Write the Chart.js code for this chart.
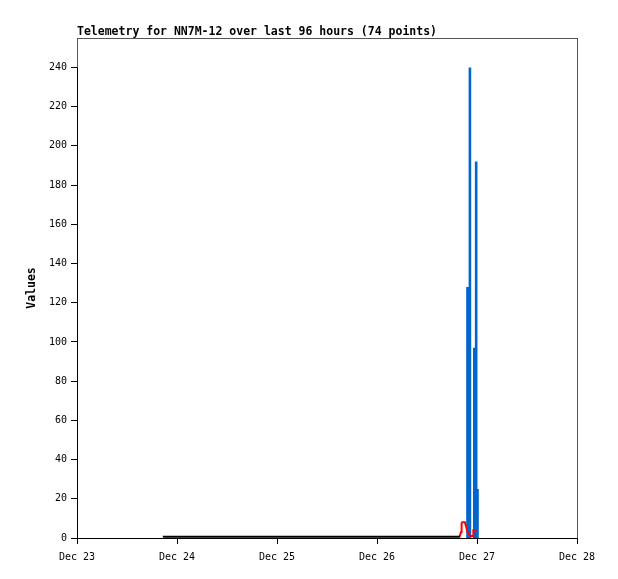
<!DOCTYPE html>
<html>
<head>
<meta charset="utf-8">
<title>Telemetry NN7M-12</title>
<script src="https://cdn.jsdelivr.net/npm/chart.js@4/dist/chart.umd.min.js"></script>
<style>
  html, body { margin: 0; padding: 0; background: #fff; }
  #wrap { width: 618px; height: 579px; }
</style>
</head>
<body>
<div id="wrap"><canvas id="telemetryChart" width="618" height="579"></canvas></div>
<script>
/* telemetry chart — hours measured from Dec 23 00:00 */

// ── Data ──────────────────────────────────────────────────────────────────

const TITLE      = 'Telemetry for NN7M-12 over last 96 hours (74 points)';
const DAY_LABELS = ['Dec 23', 'Dec 24', 'Dec 25', 'Dec 26', 'Dec 27', 'Dec 28'];

// black trace (flat, just above zero)
const blackHours  = [20.6, 30, 40, 50, 60, 70, 80, 88, 91.9];
const blackValues = [0.6, 0.6, 0.6, 0.6, 0.6, 0.6, 0.6, 0.6, 0.6];

// red trace
const redHours  = [91.8, 92.16, 92.3, 92.45, 93.1, 93.3, 93.72, 94.32, 95.04, 95.12, 95.88];
const redValues = [0.6, 3, 7.5, 8, 8, 6.5, 3, 1, 1, 4, 4];

// blue impulses
const blueHours  = [93.72, 94.3, 95.35, 95.8, 96.12];
const blueValues = [128, 240, 97, 192, 25];

// ── Helpers ───────────────────────────────────────────────────────────────

const toPoints = (xs, ys) => xs.map((x, i) => ({ x, y: ys[i] }));

// each impulse: baseline -> value, then a gap so spikes are not joined
const toImpulses = (xs, ys) => xs.flatMap((x, i) => [
  { x, y: 0 }, { x, y: ys[i] }, { x, y: null },
]);

const TICK_FONT  = { family: "'DejaVu Sans Mono', monospace", size: 10 };
const LABEL_FONT = { family: "'DejaVu Sans Mono', monospace", size: 11.5, weight: 'bold' };

// frame + title drawn after the datasets
const framePlugin = {
  id: 'frame',
  afterDraw(chart) {
    const { ctx, chartArea: a } = chart;
    ctx.save();
    ctx.strokeStyle = '#555';
    ctx.lineWidth = 1;
    ctx.strokeRect(a.left + 0.5, a.top + 0.5, a.right - a.left, a.bottom - a.top);
    ctx.strokeStyle = '#000';
    ctx.beginPath();
    ctx.moveTo(a.left + 0.5, a.bottom + 0.5);
    ctx.lineTo(a.left + 0.5, chart.scales.y.getPixelForValue(240));
    ctx.moveTo(a.left, a.bottom + 0.5);
    ctx.lineTo(a.right + 1, a.bottom + 0.5);
    ctx.stroke();
    ctx.fillStyle = '#000';
    ctx.font = `bold ${LABEL_FONT.size}px ${LABEL_FONT.family}`;
    ctx.textBaseline = 'alphabetic';
    ctx.fillText(TITLE, a.left, 35);
    ctx.restore();
  },
};

// ── Chart ─────────────────────────────────────────────────────────────────

(function buildChart() {
  const canvas = document.getElementById('telemetryChart');

  new Chart(canvas, {
    type: 'line',
    data: {
      datasets: [
        {
          label: 'black',
          data: toPoints(blackHours, blackValues),
          borderColor: '#000',
          borderWidth: 2,
          pointRadius: 0,
        },
        {
          label: 'red',
          data: toPoints(redHours, redValues),
          borderColor: '#ff0000',
          borderWidth: 2,
          pointRadius: 0,
        },
        {
          label: 'blue',
          data: toImpulses(blueHours, blueValues),
          borderColor: '#0066cc',
          borderWidth: 2.6,
          borderCapStyle: 'butt',
          pointRadius: 0,
          spanGaps: false,
        },
      ],
    },
    options: {
      responsive: false,
      animation: false,
      devicePixelRatio: 1,
      layout: { padding: { top: 38, right: 41, left: 0, bottom: 0 } },
      scales: {
        x: {
          type: 'linear',
          min: 0,
          max: 120,
          offset: false,
          afterFit: s => { s.height = 41; },
          ticks: {
            stepSize: 24,
            color: '#000',
            font: TICK_FONT,
            padding: 7,
            maxRotation: 0,
            callback: v => DAY_LABELS[Math.round(v / 24)],
          },
          grid: { drawOnChartArea: false, drawTicks: true, tickLength: 6, color: '#000' },
          border: { display: false },
        },
        y: {
          min: 0,
          max: 255,
          afterFit: s => { s.width = 77; },
          afterBuildTicks: s => { s.ticks = s.ticks.filter(t => t.value % 20 === 0); },
          ticks: {
            stepSize: 20,
            color: '#000',
            font: TICK_FONT,
            padding: 4,
          },
          grid: { drawOnChartArea: false, drawTicks: true, tickLength: 6, color: '#000' },
          border: { display: false },
          title: {
            display: true,
            text: 'Values',
            color: '#000',
            font: LABEL_FONT,
            padding: { top: 25, bottom: 0 },
          },
        },
      },
      plugins: {
        legend: { display: false },
        tooltip: { enabled: false },
        title: { display: false },
      },
    },
    plugins: [framePlugin],
  });
})();
</script>
</body>
</html>
